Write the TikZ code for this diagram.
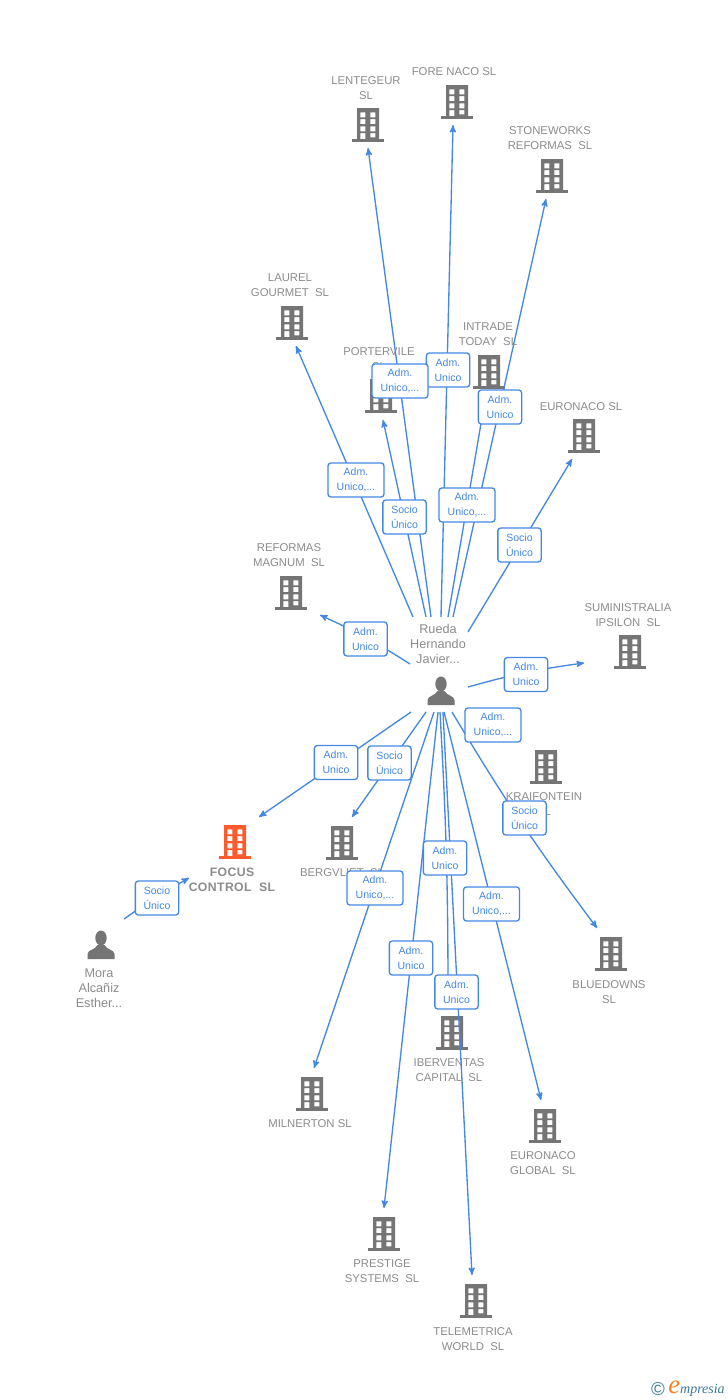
\documentclass[tikz,border=0pt]{standalone}
\usepackage{fontspec}
\setmainfont{Liberation Sans}
\newfontfamily\logofont{Liberation Serif}
\usepackage{tikz}
\usetikzlibrary{arrows}

\definecolor{linkblue}{HTML}{4488E2}
\definecolor{iconcol}{HTML}{757575}
\definecolor{namecol}{HTML}{8C8C8C}
\definecolor{focuscol}{HTML}{FF5A2B}
\definecolor{logoteal}{HTML}{3A7A96}
\definecolor{logoorange}{HTML}{F58220}

\newcommand{\bldgicon}[1]{
  \begin{scope}[shift={(path picture bounding box.center)}]
    \fill[#1,even odd rule] (-11,-17) rectangle (11,14)
      \foreach \wy in {-12.7,-6,1.3} {(-7.7,\wy) rectangle ++(5,5) (2.3,\wy) rectangle ++(5,5)}
      (-7.7,8) rectangle (-2.7,14) (2.3,8) rectangle (7.3,12.3);
    \fill[#1] (-16,14) rectangle (16,17);
  \end{scope}
}

\tikzset{
  bldg/.style={inner sep=0pt,minimum width=24pt,minimum height=25.5pt,path picture={\bldgicon{iconcol}}},
  bldgfocus/.style={inner sep=0pt,minimum width=24pt,minimum height=25.5pt,path picture={\bldgicon{focuscol}}},
  person/.style={inner sep=0pt,minimum width=21pt,minimum height=22.5pt,path picture={
    \begin{scope}[shift={(path picture bounding box.center)}]
      \fill[iconcol] (0,-7) ellipse [x radius=5.7,y radius=7.5];
      \fill[iconcol] (-13.5,14) -- (-13.5,9) .. controls (-13,4.5) and (-6,5) .. (-3.5,0) -- (3.5,0) .. controls (6,5) and (13,4.5) .. (13.5,9) -- (13.5,14) -- cycle;
    \end{scope}}},
  compname/.style={text=namecol,align=center,inner sep=0pt,yshift=-0.6pt,font=\fontsize{8.5}{11.25}\selectfont},
  namefocus/.style={compname,font=\fontsize{9.2}{11.25}\selectfont\bfseries\addfontfeature{LetterSpace=3}},
  who/.style={compname,font=\fontsize{9.5}{11.25}\selectfont},
  link/.style={->,color=linkblue,line width=1pt},
  tag/.style={draw=linkblue,fill=white,rounded corners=2.2pt,line width=1pt,text=linkblue,align=center,inner sep=0pt,
    minimum width=32.5pt,minimum height=25.5pt,font=\fontsize{7.9}{11.25}\selectfont},
  tagw/.style={tag,minimum width=42pt}
}

\begin{document}
\begin{tikzpicture}[x=0.75pt,y=-0.75pt,>=stealth']

        \path[use as bounding box,fill=white] (0,0) rectangle (728,1400);

        % companies
        \node[bldg]      (lent)  at (368,125)  {};
        \node[bldg]      (fore)  at (457,102)  {};
        \node[bldg]      (stone) at (552,176)  {};
        \node[bldg]      (laur)  at (292,323)  {};
        \node[bldg]      (port)  at (381,396)  {};
        \node[bldg]      (intr)  at (489,372)  {};
        \node[bldg]      (euro)  at (584,436)  {};
        \node[bldg]      (refo)  at (291,593)  {};
        \node[bldg]      (sumi)  at (630,652)  {};
        \node[bldg]      (krai)  at (546,767)  {};
        \node[bldgfocus] (focus) at (235,842)  {};
        \node[bldg]      (berg)  at (342,843)  {};
        \node[bldg]      (blue)  at (611,954)  {};
        \node[bldg]      (iber)  at (452,1033) {};
        \node[bldg]      (miln)  at (312,1094) {};
        \node[bldg]      (eglo)  at (545,1126) {};
        \node[bldg]      (pres)  at (384,1234) {};
        \node[bldg]      (tele)  at (476,1301) {};
        \node[person]    (rueda) at (441,691)  {};
        \node[person]    (mora)  at (101,945)  {};

        \node[compname]  (lentT)  at (366,87)   {LENTEGEUR\\SL};
        \node[compname]  (foreT)  at (454,71)   {FORE NACO SL};
        \node[compname]  (stoneT) at (550,137)  {STONEWORKS\\REFORMAS~~SL};
        \node[compname]  (laurT)  at (290,284)  {LAUREL\\GOURMET~~SL};
        \node[compname]  (portT)  at (379,358)  {PORTERVILE\\SL};
        \node[compname]  (intrT)  at (488,333)  {INTRADE\\TODAY~~SL};
        \node[compname]  (euroT)  at (581,406)  {EURONACO SL};
        \node[compname]  (refoT)  at (289,554)  {REFORMAS\\MAGNUM~~SL};
        \node[compname]  (sumiT)  at (628,614)  {SUMINISTRALIA\\IPSILON~~SL};
        \node[compname]  (kraiT)  at (544,803)  {KRAIFONTEIN\\SL};
        \node[namefocus] (focusT) at (232,879)  {FOCUS\\CONTROL~~SL};
        \node[compname]  (bergT)  at (342,872)  {BERGVLIET~~SL};
        \node[compname]  (blueT)  at (609,991)  {BLUEDOWNS\\SL};
        \node[compname]  (iberT)  at (449,1069) {IBERVENTAS\\CAPITAL~~SL};
        \node[compname]  (milnT)  at (310,1123) {MILNERTON SL};
        \node[compname]  (egloT)  at (543,1162) {EURONACO\\GLOBAL~~SL};
        \node[compname]  (presT)  at (382,1270) {PRESTIGE\\SYSTEMS~~SL};
        \node[compname]  (teleT)  at (473,1338) {TELEMETRICA\\WORLD~~SL};
        \node[who]       (ruedaT) at (438,643)  {Rueda\\Hernando\\Javier...};
        \node[who]       (moraT)  at (99,987)   {Mora\\Alcañiz\\Esther...};

        % line ends
        \coordinate (lentA)  at (431,617);  \coordinate (lentB)  at (368,148);
        \coordinate (foreA)  at (441,617);  \coordinate (foreB)  at (453,125);
        \coordinate (stoneA) at (453,617);  \coordinate (stoneB) at (546,199);
        \coordinate (laurA)  at (413,617);  \coordinate (laurB)  at (296,346);
        \coordinate (portA)  at (426,617);  \coordinate (portB)  at (383,420);
        \coordinate (intrA)  at (448,617);  \coordinate (intrB)  at (485,400);
        \coordinate (euroA)  at (468,632);  \coordinate (euroB)  at (572,459);
        \coordinate (refoA)  at (410,664);  \coordinate (refoB)  at (320,615);
        \coordinate (sumiA)  at (468,687);  \coordinate (sumiB)  at (584,663);
        \coordinate (focusA) at (411,712);  \coordinate (focusB) at (259,817);
        \coordinate (bergA)  at (426,712);  \coordinate (bergB)  at (352,817);
        \coordinate (blueA)  at (452,712);  \coordinate (blueB)  at (597,928);
        \coordinate (iberA)  at (440,712);  \coordinate (iberB)  at (448,1000);
        \coordinate (milnA)  at (434,712);  \coordinate (milnB)  at (314,1068);
        \coordinate (egloA)  at (444,712);  \coordinate (egloB)  at (541,1100);
        \coordinate (presA)  at (438,712);  \coordinate (presB)  at (384,1208);
        \coordinate (teleA)  at (443,712);  \coordinate (teleB)  at (472,1275);
        \coordinate (moraA)  at (124,919);  \coordinate (moraB)  at (189,878);

        \path[link] (lentA)  edge (lentB)
              (foreA)  edge (foreB)
              (stoneA) edge (stoneB)
              (laurA)  edge (laurB)
              (portA)  edge (portB)
              (intrA)  edge (intrB)
              (euroA)  edge (euroB)
              (refoA)  edge [bend right=4] (refoB)
              (sumiA)  edge [bend left=4] (sumiB)
              (focusA) edge (focusB)
              (bergA)  edge (bergB)
              (blueA)  edge [bend right=3] (blueB)
              (milnA)  edge (milnB)
              (egloA)  edge (egloB)
              (presA)  edge (presB)
              (teleA)  edge (teleB)
              (moraA)  edge [bend left=3] (moraB);
        \draw[link] (iberA) .. controls (446,820) and (448,880) .. (iberB);

        % boxes over the lines
        \node[tag]  (foreC)  at (448,370)  {Adm.\\Unico};
        \node[tagw] (lentC)  at (400,381)  {Adm.\\Unico,...};
        \node[tag]  (stoneC) at (500,407)  {Adm.\\Unico};
        \node[tagw] (laurC)  at (356,480)  {Adm.\\Unico,...};
        \node[tag]  (portC)  at (404.5,517) {Socio\\Único};
        \node[tagw] (intrC)  at (467,505)  {Adm.\\Unico,...};
        \node[tag]  (euroC)  at (519.5,545) {Socio\\Único};
        \node[tag]  (refoC)  at (365.5,639) {Adm.\\Unico};
        \node[tag]  (sumiC)  at (526,674.5) {Adm.\\Unico};
        \node[tagw] (kraiC)  at (493,725)  {Adm.\\Unico,...};
        \node[tag]  (focusC) at (336,762.5) {Adm.\\Unico};
        \node[tag]  (bergC)  at (389.5,763) {Socio\\Único};
        \node[tag]  (blueC)  at (524.5,818) {Socio\\Único};
        \node[tag]  (iberC)  at (445,858)  {Adm.\\Unico};
        \node[tagw] (milnC)  at (375,888)  {Adm.\\Unico,...};
        \node[tagw] (egloC)  at (491.5,904) {Adm.\\Unico,...};
        \node[tag]  (presC)  at (411,958)  {Adm.\\Unico};
        \node[tag]  (teleC)  at (456.5,992) {Adm.\\Unico};
        \node[tag]  (moraC)  at (157,898)  {Socio\\Único};

        % logo
        \node[text=logoteal,inner sep=0pt,font=\fontsize{14}{14}\selectfont] (copy) at (658,1389) {©};
        \node[anchor=base east,inner sep=0pt,text=logoteal,font=\logofont\itshape\fontsize{10.5}{11}\selectfont] (logo) at (725,1393.5)
            {{\color{logoorange}\fontsize{20}{11}\selectfont e}mpresia};

\end{tikzpicture}
\end{document}
